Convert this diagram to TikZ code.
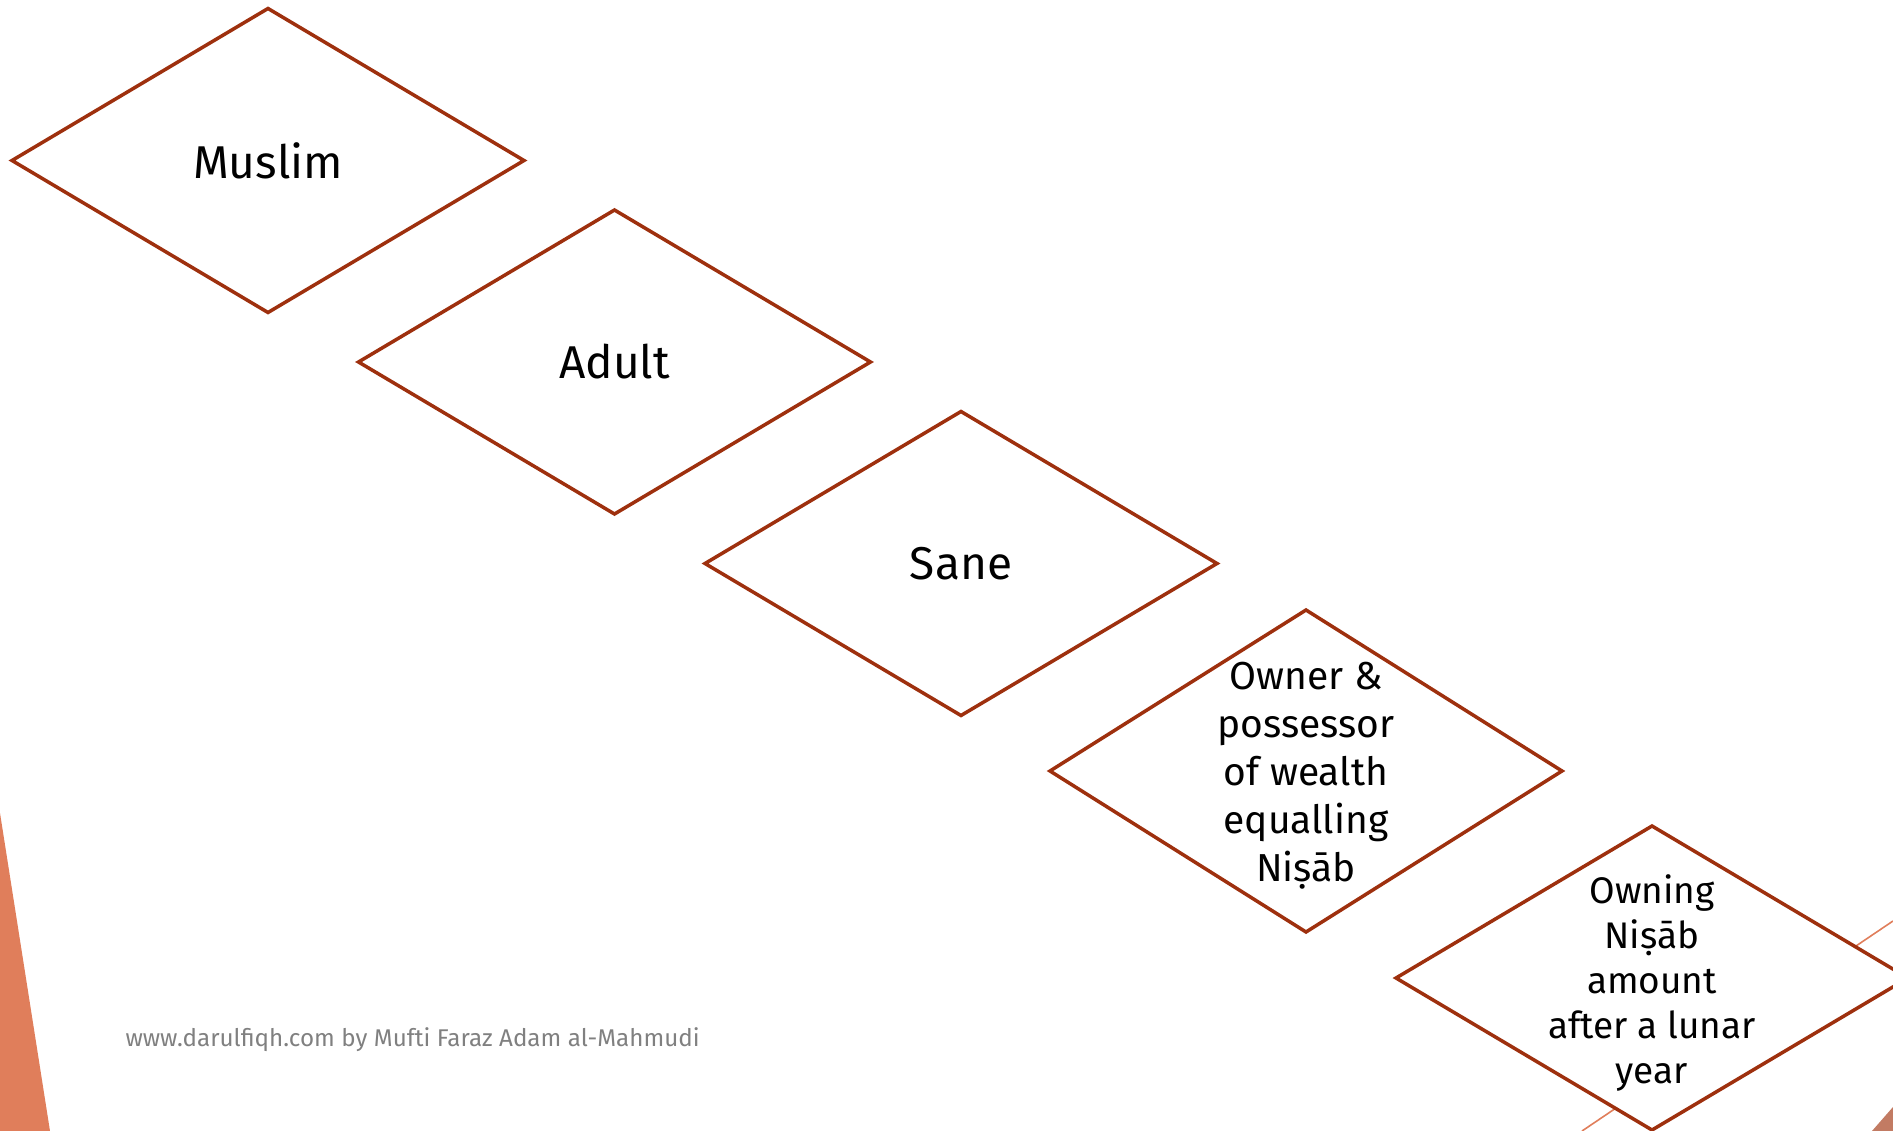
\documentclass[tikz,border=0pt]{standalone}
\usepackage{fontspec}
\setmainfont{Fira Sans}
\usetikzlibrary{shapes.geometric}
\definecolor{rust}{RGB}{158,48,14}
\definecolor{salmon}{RGB}{224,126,91}
\definecolor{brick}{RGB}{194,123,99}
\definecolor{foot}{RGB}{128,128,128}
\begin{document}
\begin{tikzpicture}[x=1pt,y=-1pt,
  dia/.style={diamond, draw=rust, line width=3.5pt, inner sep=0pt, outer sep=0pt,
              minimum width=512pt, minimum height=304pt},
  bigtxt/.style={font=\fontsize{46}{52}\selectfont, text=black, align=center},
  midtxt/.style={font=\fontsize{39}{48}\selectfont, text=black, align=center},
  smltxt/.style={font=\fontsize{37}{45}\selectfont, text=black, align=center}]
\useasboundingbox (0,0) rectangle (1893,1131);
\begin{scope}
\clip (0,0) rectangle (1893,1131);
% decorations
\fill[salmon] (0,813) -- (50,1131) -- (0,1131) -- cycle;
\draw[salmon, line width=1.6pt] (1893,921) -- (1582,1131);
\fill[brick] (1872,1131) -- (1893,1107) -- (1893,1131) -- cycle;
% diamonds
\node[dia] (d1) at (268,160.5) {};
\node[dia] (d2) at (614.5,362) {};
\node[dia] (d3) at (961,563.5) {};
\node[dia, minimum height=322pt] (d4) at (1306,771) {};
\node[dia, fill=white] (d5) at (1652,978) {};
\end{scope}
\node[bigtxt] (t1) at (d1) {Muslim};
\node[bigtxt] (t2) at (d2) {Adult};
\node[bigtxt] (t3) at (d3) {Sane};
\node[midtxt] (t4) at ([yshift=-5pt]d4.center) {Owner \&\\possessor\\of wealth\\equalling\\Niṣāb};
\node[smltxt] (t5) at ([yshift=-5pt]d5.center) {Owning\\Niṣāb\\amount\\after a lunar\\year};
\node[anchor=base west, text=foot, font=\fontsize{24.2}{27}\selectfont] (foot) at (122,1046) {www.darulfiqh.com by Mufti Faraz Adam al-Mahmudi};
\end{tikzpicture}
\end{document}
